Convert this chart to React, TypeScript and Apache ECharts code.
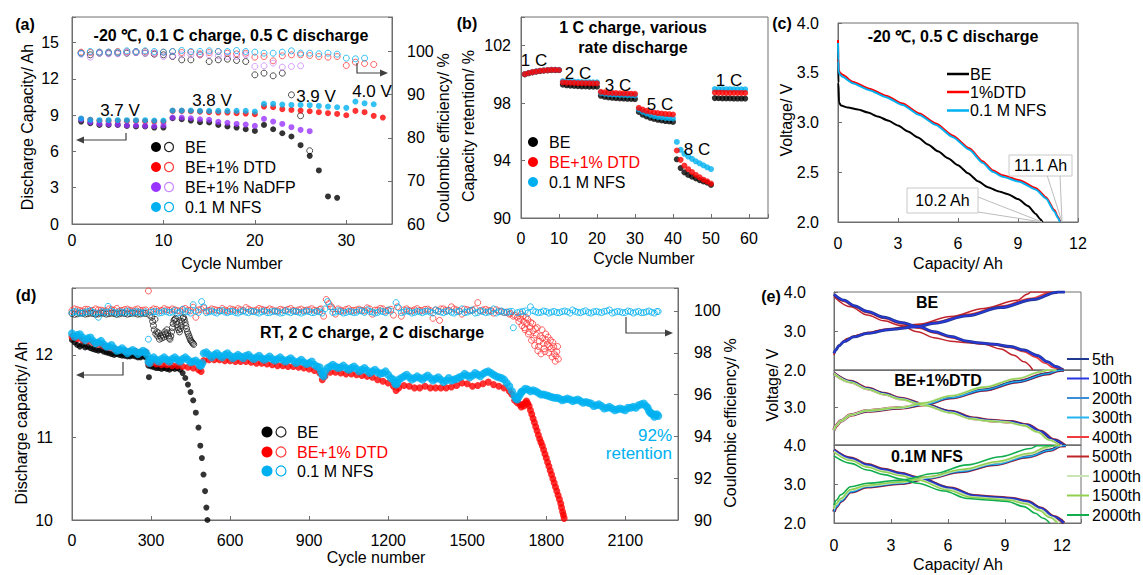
import { useEffect, useRef } from "react";
import * as echarts from "echarts";

const FONT = "'Liberation Sans', Arial, Helvetica, sans-serif";
const NARROW = "'Liberation Sans Narrow', 'Arial Narrow', 'Liberation Sans', Arial, sans-serif";
const AX = "#6e6e6e";
const C_BLACK = "#000000";
const C_RED = "#ff0000";
const C_RED_OPEN = "#ff3b3b";
const C_PURPLE = "#9933ff";
const C_PURPLE_OPEN = "#cc88ff";
const C_CYAN = "#00b0f0";

// ---------- (a) -20 C, 0.1 C charge / 0.5 C discharge (cycle 1..n)
const A_BE_CAP = [8.48, 8.34, 8.2, 8.2, 8.2, 8.12, 8.07, 8.07, 7.98, 7.98, 8.75, 8.67, 8.56, 8.42, 8.4, 8.2, 8.07, 7.98, 7.84, 7.7, 8.2, 7.84, 7.51, 7.24, 6.52, 5.64, 4.43, 2.28, 2.17];
const A_DTD_CAP = [8.7, 8.62, 8.53, 8.53, 8.53, 8.53, 8.53, 8.5, 8.48, 8.45, 9.36, 9.36, 9.33, 9.3, 9.25, 9.22, 9.22, 9.17, 9.14, 9.08, 9.72, 9.66, 9.5, 9.44, 9.39, 9.33, 9.25, 9.17, 9.11, 9.0, 9.36, 9.25, 8.95, 8.81];
const A_NADFP_CAP = [8.64, 8.42, 8.28, 8.26, 8.23, 8.15, 8.15, 8.12, 8.09, 8.15, 8.81, 8.81, 8.75, 8.67, 8.62, 8.45, 8.37, 8.28, 8.23, 8.12, 8.7, 8.48, 8.28, 8.01, 7.79, 7.68];
const A_NFS_CAP = [8.73, 8.62, 8.59, 8.59, 8.59, 8.59, 8.59, 8.59, 8.56, 8.56, 9.39, 9.39, 9.39, 9.36, 9.36, 9.36, 9.36, 9.36, 9.36, 9.3, 9.94, 9.94, 9.88, 9.85, 9.85, 9.83, 9.77, 9.72, 9.66, 9.61, 10.13, 9.99, 9.91];
const A_BE_CE = [99.61, 99.23, 99.61, 99.61, 99.61, 99.61, 99.77, 99.61, 99.38, 99.23, 98.84, 98.07, 98.07, 99.23, 97.68, 98.07, 98.22, 97.92, 97.68, 94.59, 94.98, 94.36, 94.98, 89.96, 85.1, 76.99];
const A_DTD_CE = [99.85, 99.77, 99.85, 99.85, 100.0, 99.92, 100.0, 100.0, 99.61, 99.85, 100.0, 99.77, 99.85, 99.46, 99.77, 100.0, 99.61, 99.46, 99.61, 98.69, 98.84, 97.84, 99.0, 99.23, 99.23, 99.07, 98.84, 98.69, 98.84, 96.76, 97.53, 97.22, 96.99];
const A_NADFP_CE = [99.38, 98.69, 99.61, 99.46, 99.46, 99.77, 99.77, 99.61, 99.61, 98.84, 99.0, 99.23, 99.23, 99.23, 99.23, 99.0, 98.84, 98.84, 99.23, 96.53, 96.68, 97.3, 96.37, 96.53, 96.68];
const A_NFS_CE = [99.61, 100.0, 99.85, 99.85, 99.85, 100.15, 100.0, 100.15, 100.0, 99.85, 100.0, 100.23, 100.0, 100.0, 100.15, 100.0, 100.0, 100.23, 100.0, 99.85, 99.61, 99.61, 99.85, 100.15, 99.61, 99.61, 99.46, 99.61, 99.38, 98.46, 98.3, 98.46];
const A_X_TICKS = [0, 10, 20, 30];
const A_YL_TICKS = [0, 3, 6, 9, 12, 15];
const A_YR_TICKS = [60, 70, 80, 90, 100];

// ---------- (b) rate capability, capacity retention % (cycle 1..59)
const B_BE = [100.0, 100.08, 100.14, 100.19, 100.23, 100.26, 100.28, 100.3, 100.3, 100.29,
  99.28, 99.24, 99.21, 99.2, 99.18, 99.17, 99.16, 99.15, 99.15, 99.14,
  98.51, 98.44, 98.4, 98.37, 98.35, 98.33, 98.32, 98.3, 98.29, 98.28,
  97.39, 97.2, 97.08, 96.98, 96.9, 96.84, 96.79, 96.75, 96.72, 96.69,
  94.09, 93.48, 93.18, 93.0, 92.88, 92.76, 92.64, 92.55, 92.46, 92.3,
  98.35, 98.34, 98.33, 98.33, 98.33, 98.32, 98.32, 98.32, 98.32];
const B_DTD = [100.02, 100.1, 100.16, 100.21, 100.25, 100.28, 100.3, 100.32, 100.32, 100.31,
  99.45, 99.43, 99.42, 99.41, 99.4, 99.4, 99.39, 99.39, 99.38, 99.38,
  98.79, 98.75, 98.73, 98.71, 98.7, 98.69, 98.68, 98.67, 98.66, 98.65,
  97.67, 97.55, 97.46, 97.4, 97.35, 97.31, 97.28, 97.25, 97.23, 97.21,
  94.7, 94.05, 93.65, 93.4, 93.2, 93.0, 92.83, 92.67, 92.55, 92.4,
  98.74, 98.73, 98.73, 98.72, 98.72, 98.72, 98.71, 98.71, 98.71];
const B_NFS = [100.03, 100.11, 100.17, 100.22, 100.26, 100.29, 100.31, 100.33, 100.33, 100.32,
  99.54, 99.51, 99.5, 99.49, 99.48, 99.47, 99.46, 99.46, 99.45, 99.45,
  98.72, 98.66, 98.63, 98.61, 98.59, 98.58, 98.57, 98.56, 98.55, 98.54,
  97.56, 97.4, 97.28, 97.18, 97.1, 97.04, 97.0, 96.97, 96.95, 96.93,
  95.3, 94.75, 94.47, 94.28, 94.12, 93.95, 93.81, 93.67, 93.53, 93.41,
  98.98, 98.98, 98.97, 98.97, 98.97, 98.96, 98.96, 98.96, 98.96];
const B_X_TICKS = [0, 10, 20, 30, 40, 50, 60];
const B_Y_TICKS = [90, 94, 98, 102];

// ---------- (c) discharge curves [capacity Ah, voltage V]
const C_BE = [[0, 3.82], [0.02, 3.4], [0.05, 3.2], [0.15, 3.17], [0.5, 3.15], [1.0, 3.13], [1.5, 3.1], [2.0, 3.06], [2.5, 3.02], [3.0, 2.97], [3.5, 2.91], [4.0, 2.85], [4.5, 2.78], [5.0, 2.71], [5.5, 2.64], [6.0, 2.57], [6.5, 2.49], [7.0, 2.41], [7.5, 2.35], [8.0, 2.31], [8.5, 2.28], [9.0, 2.23], [9.5, 2.16], [9.9, 2.08], [10.1, 2.03], [10.23, 2.0]];
const C_DTD = [[0, 3.83], [0.01, 3.65], [0.03, 3.53], [0.1, 3.5], [0.23, 3.48], [0.73, 3.41], [1.57, 3.34], [2.4, 3.27], [3.23, 3.19], [4.07, 3.09], [4.9, 2.99], [5.73, 2.87], [6.57, 2.74], [7.23, 2.61], [7.73, 2.52], [8.23, 2.47], [9.07, 2.42], [9.9, 2.34], [10.4, 2.25], [10.82, 2.12], [11.0, 2.05], [11.12, 2.0]];
const C_NFS = [[0, 3.8], [0.01, 3.62], [0.03, 3.51], [0.1, 3.48], [0.23, 3.46], [0.73, 3.395], [1.57, 3.325], [2.4, 3.255], [3.23, 3.175], [4.07, 3.075], [4.9, 2.975], [5.73, 2.855], [6.57, 2.725], [7.23, 2.595], [7.73, 2.505], [8.23, 2.455], [9.07, 2.405], [9.9, 2.325], [10.4, 2.235], [10.82, 2.105], [11.0, 2.04], [11.1, 2.0]];
const C_X_TICKS = [0, 3, 6, 9, 12];
const C_Y_TICKS = [2, 2.5, 3, 3.5, 4];

// ---------- (d) long cycling [cycle, value]
const D_BE_CAP = [[0, 12.18], [10, 12.15], [20, 12.12], [30, 12.1], [40, 12.12], [50, 12.09], [60, 12.1], [70, 12.08], [80, 12.07], [90, 12.06], [100, 12.05], [110, 12.06], [120, 12.04], [130, 12.03], [140, 12.02], [150, 12.01], [160, 12.0], [170, 12.01], [180, 12.0], [190, 11.99], [200, 11.99], [210, 11.98], [220, 11.98], [230, 11.99], [240, 11.98], [250, 11.97], [260, 11.97], [270, 11.98], [280, 11.97], [290, 11.87], [292, 11.73], [300, 11.86], [310, 11.85], [320, 11.84], [330, 11.84], [340, 11.83], [350, 11.84], [360, 11.83], [370, 11.82], [380, 11.84], [390, 11.83], [400, 11.84], [410, 11.82], [420, 11.78], [430, 11.72], [440, 11.64], [450, 11.55], [460, 11.45], [470, 11.3], [480, 11.12], [487, 10.9], [493, 10.75], [499, 10.55], [505, 10.35], [510, 10.15], [514, 10.0]];
const D_BE_CE = [[0, 99.88], [10, 99.84], [20, 99.86], [30, 99.9], [40, 99.89], [50, 99.85], [60, 99.87], [70, 99.9], [80, 99.88], [90, 99.84], [100, 99.86], [110, 99.9], [120, 99.89], [130, 99.85], [140, 99.87], [150, 99.9], [160, 99.88], [170, 99.84], [180, 99.86], [190, 99.9], [200, 99.88], [210, 99.85], [220, 99.87], [230, 99.9], [240, 99.89], [250, 99.85], [260, 99.86], [270, 99.9], [280, 99.88], [295, 99.8], [303, 99.7], [306, 99.5], [309, 99.3], [312, 99.1], [315, 99.6], [318, 98.9], [322, 99.0], [325, 98.8], [328, 98.95], [332, 98.65], [336, 98.8], [340, 98.7], [344, 98.85], [348, 98.75], [352, 99.0], [355, 98.9], [360, 99.1], [363, 98.95], [366, 98.8], [369, 98.7], [372, 98.65], [375, 98.8], [378, 99.0], [381, 99.2], [384, 99.4], [387, 99.55], [390, 99.6], [393, 99.65], [396, 99.5], [399, 99.35], [402, 99.2], [405, 99.1], [408, 99.0], [411, 99.15], [414, 99.3], [417, 99.5], [420, 99.65], [423, 99.7], [426, 99.6], [429, 99.45], [432, 99.3], [435, 99.15], [438, 99.0], [441, 98.9], [444, 98.8], [447, 98.7], [450, 98.6], [453, 98.55], [456, 98.5], [459, 98.45], [462, 98.4]];
const D_DTD_CAP = [[0, 12.22], [20, 12.2], [40, 12.18], [60, 12.17], [80, 12.15], [100, 12.13], [120, 12.11], [140, 12.09], [160, 12.07], [180, 12.06], [200, 12.05], [220, 12.04], [240, 12.04], [260, 12.03], [280, 12.03], [290, 11.9], [300, 11.9], [320, 11.89], [340, 11.88], [360, 11.88], [380, 11.87], [400, 11.87], [420, 11.86], [440, 11.85], [460, 11.84], [480, 11.82], [490, 11.8], [500, 11.93], [520, 11.94], [540, 11.94], [560, 11.94], [580, 11.93], [600, 11.93], [620, 11.92], [640, 11.92], [660, 11.92], [680, 11.91], [700, 11.9], [720, 11.9], [740, 11.89], [760, 11.88], [780, 11.87], [800, 11.87], [820, 11.86], [840, 11.86], [860, 11.85], [880, 11.84], [900, 11.83], [920, 11.81], [940, 11.78], [950, 11.7], [960, 11.74], [980, 11.79], [1000, 11.79], [1020, 11.78], [1040, 11.77], [1060, 11.77], [1080, 11.76], [1100, 11.75], [1120, 11.74], [1140, 11.73], [1160, 11.7], [1180, 11.68], [1200, 11.66], [1220, 11.62], [1230, 11.57], [1240, 11.6], [1260, 11.63], [1280, 11.62], [1300, 11.6], [1320, 11.6], [1340, 11.62], [1360, 11.6], [1380, 11.6], [1400, 11.6], [1420, 11.6], [1440, 11.61], [1460, 11.63], [1480, 11.66], [1500, 11.65], [1520, 11.62], [1540, 11.63], [1560, 11.65], [1580, 11.67], [1600, 11.64], [1620, 11.62], [1640, 11.6], [1660, 11.56], [1680, 11.45], [1700, 11.4], [1715, 11.38], [1725, 11.44], [1735, 11.38], [1745, 11.28], [1755, 11.18], [1765, 11.08], [1775, 10.98], [1785, 10.9], [1795, 10.8], [1805, 10.7], [1815, 10.6], [1825, 10.5], [1835, 10.4], [1845, 10.3], [1855, 10.2], [1862, 10.1], [1868, 10.02]];
const D_DTD_CAP_B = [[1670, 11.52], [1690, 11.42], [1705, 11.37], [1710, 11.4], [1720, 11.42], [1730, 11.41], [1740, 11.33], [1750, 11.23], [1760, 11.13], [1770, 11.03], [1780, 10.94], [1790, 10.85], [1800, 10.75], [1810, 10.65], [1820, 10.55], [1830, 10.45], [1840, 10.35], [1850, 10.25], [1858, 10.15], [1865, 10.06]];
const D_DTD_CE = [[0, 100.02], [20, 100.06], [40, 100.0], [60, 100.08], [80, 100.03], [100, 100.05], [120, 100.01], [140, 100.1], [160, 100.04], [180, 100.0], [200, 100.07], [220, 100.03], [240, 100.06], [260, 100.02], [280, 100.05], [290, 100.96], [300, 100.02], [320, 100.08], [340, 100.03], [360, 100.06], [380, 100.1], [400, 100.02], [420, 100.07], [440, 100.04], [460, 100.18], [470, 99.7], [480, 100.05], [500, 100.15], [520, 100.03], [540, 100.07], [560, 100.02], [580, 100.05], [600, 100.1], [620, 100.03], [640, 100.06], [660, 100.16], [680, 100.02], [700, 100.05], [720, 100.08], [740, 100.03], [760, 100.06], [780, 100.01], [800, 100.05], [820, 100.08], [840, 100.03], [860, 100.05], [880, 100.02], [900, 100.06], [920, 100.04], [940, 100.07], [955, 99.75], [965, 100.55], [975, 100.35], [990, 100.1], [1000, 99.85], [1020, 100.04], [1040, 100.07], [1060, 100.02], [1080, 100.05], [1100, 100.03], [1120, 100.15], [1140, 99.85], [1160, 100.05], [1180, 100.1], [1200, 100.03], [1220, 99.8], [1235, 100.2], [1250, 99.75], [1260, 100.05], [1280, 100.02], [1300, 100.06], [1320, 100.03], [1340, 100.08], [1360, 100.02], [1370, 99.65], [1380, 100.05], [1395, 99.55], [1400, 100.1], [1420, 100.03], [1440, 100.2], [1460, 100.05], [1480, 99.85], [1500, 100.06], [1520, 100.03], [1540, 100.4], [1560, 100.05], [1580, 100.02], [1600, 99.9], [1620, 100.0], [1640, 99.92], [1660, 99.85], [1675, 99.75], [1690, 99.7], [1696, 99.5], [1702, 99.62], [1708, 99.3], [1712, 99.75], [1714, 99.5], [1720, 99.1], [1726, 99.4], [1730, 99.6], [1732, 98.9], [1738, 99.25], [1744, 98.6], [1748, 99.4], [1750, 99.05], [1756, 98.35], [1762, 98.85], [1766, 99.2], [1768, 98.1], [1774, 98.55], [1780, 97.95], [1784, 99.1], [1786, 98.7], [1792, 98.2], [1798, 98.9], [1800, 98.6], [1804, 98.4], [1810, 98.0], [1816, 98.6], [1818, 98.2], [1822, 97.8], [1828, 98.3], [1830, 97.95], [1834, 97.6], [1840, 98.05], [1846, 97.7]];
const D_DTD_CE_B = [[10, 100.1], [30, 100.02], [50, 100.08], [70, 100.0], [90, 100.1], [110, 100.04], [130, 100.0], [150, 100.07], [170, 100.12], [190, 100.03], [210, 100.09], [230, 100.0], [250, 100.1], [270, 100.04], [310, 100.1], [330, 100.0], [350, 100.11], [370, 100.03], [390, 100.06], [410, 100.0], [430, 100.12], [450, 100.02], [490, 100.08], [510, 100.0], [530, 100.1], [550, 100.04], [570, 100.12], [590, 100.0], [610, 100.07], [630, 100.11], [650, 100.02], [670, 100.09], [690, 100.0], [710, 100.12], [730, 100.04], [750, 100.1], [770, 100.0], [790, 100.08], [810, 100.03], [830, 100.12], [850, 100.0], [870, 100.09], [890, 100.04], [910, 100.11], [930, 100.0], [945, 100.1], [985, 100.2], [1010, 100.1], [1030, 100.0], [1050, 100.11], [1070, 100.03], [1090, 100.09], [1110, 100.0], [1130, 100.1], [1150, 100.04], [1170, 100.12], [1190, 100.0], [1210, 100.08], [1270, 100.1], [1290, 100.0], [1310, 100.11], [1330, 100.02], [1350, 100.09], [1390, 100.0], [1410, 100.1], [1430, 100.03], [1450, 100.1], [1470, 100.0], [1490, 100.09], [1510, 100.03], [1530, 100.1], [1550, 100.0], [1570, 100.08], [1590, 100.02], [1610, 100.06], [1630, 99.98], [1650, 99.95], [1665, 99.88], [1680, 99.8], [1705, 99.85], [1717, 99.2], [1723, 99.7], [1735, 99.0], [1741, 99.45], [1753, 98.7], [1759, 99.15], [1771, 98.3], [1777, 98.8], [1789, 98.45], [1795, 98.05], [1807, 98.75], [1813, 98.3], [1825, 98.5], [1837, 97.85], [1843, 98.3]];
const D_NFS_CAP = [[0, 12.26], [20, 12.24], [40, 12.21], [60, 12.2], [80, 12.17], [100, 12.15], [120, 12.13], [140, 12.1], [160, 12.08], [180, 12.06], [200, 12.05], [220, 12.04], [240, 12.04], [260, 12.03], [280, 12.03], [290, 11.92], [300, 11.95], [320, 11.94], [340, 11.95], [360, 11.94], [380, 11.95], [400, 11.94], [420, 11.95], [440, 11.94], [460, 11.92], [480, 11.9], [490, 11.87], [500, 12.02], [520, 12.0], [540, 12.0], [560, 11.99], [580, 12.0], [600, 11.99], [620, 11.98], [640, 11.98], [660, 11.99], [680, 11.97], [700, 11.97], [720, 11.96], [740, 11.96], [760, 11.95], [780, 11.95], [800, 11.94], [820, 11.94], [840, 11.93], [860, 11.92], [880, 11.91], [900, 11.9], [920, 11.88], [940, 11.85], [950, 11.76], [960, 11.8], [980, 11.86], [1000, 11.86], [1020, 11.85], [1040, 11.84], [1060, 11.84], [1080, 11.83], [1100, 11.82], [1120, 11.81], [1140, 11.8], [1160, 11.79], [1180, 11.78], [1200, 11.76], [1220, 11.7], [1230, 11.64], [1240, 11.7], [1260, 11.74], [1280, 11.73], [1300, 11.72], [1320, 11.72], [1340, 11.73], [1360, 11.72], [1380, 11.71], [1400, 11.7], [1420, 11.69], [1440, 11.69], [1460, 11.71], [1480, 11.74], [1500, 11.75], [1520, 11.75], [1540, 11.76], [1560, 11.77], [1580, 11.8], [1600, 11.76], [1620, 11.73], [1640, 11.7], [1660, 11.62], [1680, 11.5], [1690, 11.46], [1700, 11.52], [1710, 11.56], [1730, 11.58], [1750, 11.57], [1770, 11.54], [1790, 11.52], [1810, 11.5], [1830, 11.48], [1850, 11.47], [1870, 11.46], [1890, 11.46], [1910, 11.45], [1930, 11.44], [1950, 11.43], [1970, 11.41], [1990, 11.39], [2010, 11.38], [2030, 11.36], [2050, 11.35], [2070, 11.34], [2090, 11.34], [2110, 11.36], [2130, 11.37], [2150, 11.39], [2170, 11.41], [2185, 11.36], [2195, 11.3], [2205, 11.28], [2215, 11.27], [2225, 11.26]];
const D_NFS_CAP_B = [[10, 12.22], [30, 12.25], [50, 12.18], [70, 12.21], [90, 12.14], [110, 12.17], [130, 12.1], [150, 12.12], [170, 12.05], [190, 12.08], [210, 12.02], [230, 12.06], [250, 12.01], [270, 12.05], [285, 12.0], [295, 11.9], [310, 11.97], [330, 11.92], [350, 11.97], [370, 11.92], [390, 11.97], [410, 11.92], [430, 11.97], [450, 11.91], [470, 11.93], [485, 11.87], [495, 11.9], [510, 12.03], [530, 11.97], [550, 12.02], [570, 11.97], [590, 12.02], [610, 11.96], [630, 12.0], [650, 11.96], [670, 12.0], [690, 11.95], [710, 11.99], [730, 11.94], [750, 11.98], [770, 11.93], [790, 11.97], [810, 11.92], [830, 11.96], [850, 11.9], [870, 11.94], [890, 11.89], [910, 11.92], [930, 11.86], [945, 11.8], [955, 11.74], [970, 11.84], [990, 11.88], [1010, 11.84], [1030, 11.87], [1050, 11.82], [1070, 11.86], [1090, 11.8], [1110, 11.84], [1130, 11.78], [1150, 11.82], [1170, 11.77], [1190, 11.8], [1210, 11.72], [1225, 11.66], [1235, 11.66], [1250, 11.72], [1270, 11.76], [1290, 11.7], [1310, 11.74], [1330, 11.7], [1350, 11.75], [1370, 11.69], [1390, 11.73], [1410, 11.67], [1430, 11.72], [1450, 11.7], [1470, 11.73], [1490, 11.77], [1510, 11.73], [1530, 11.78], [1550, 11.74], [1570, 11.79], [1590, 11.78], [1610, 11.74], [1630, 11.72], [1650, 11.66], [1670, 11.56], [1685, 11.47], [1695, 11.49], [1705, 11.55], [1720, 11.59], [1740, 11.56], [1760, 11.56], [1780, 11.52], [1800, 11.51], [1820, 11.49], [1840, 11.48], [1860, 11.45], [1880, 11.47], [1900, 11.44], [1920, 11.46], [1940, 11.42], [1960, 11.42], [1980, 11.38], [2000, 11.4], [2020, 11.35], [2040, 11.37], [2060, 11.33], [2080, 11.35], [2100, 11.33], [2120, 11.36], [2140, 11.36], [2160, 11.4], [2178, 11.38], [2190, 11.32], [2200, 11.29], [2210, 11.25], [2220, 11.28]];
const D_NFS_CE = [[0, 99.92], [20, 99.95], [40, 99.9], [60, 99.97], [80, 99.93], [100, 99.7], [120, 99.95], [137, 100.22], [160, 99.94], [180, 99.96], [200, 99.92], [220, 99.95], [240, 99.97], [260, 99.93], [280, 99.96], [290, 98.65], [300, 99.94], [320, 99.97], [340, 99.92], [360, 99.96], [380, 99.95], [400, 99.9], [420, 100.08], [440, 99.97], [460, 100.3], [480, 99.93], [492, 100.45], [500, 100.2], [520, 99.96], [540, 99.94], [560, 99.98], [580, 99.95], [600, 99.97], [620, 99.93], [640, 99.96], [660, 99.95], [680, 99.98], [700, 99.94], [720, 99.96], [740, 99.93], [760, 99.97], [780, 99.95], [800, 99.92], [820, 99.96], [840, 99.98], [860, 99.94], [880, 99.95], [900, 99.97], [920, 99.93], [940, 99.96], [960, 100.1], [970, 100.45], [980, 100.2], [1000, 99.95], [1020, 99.97], [1040, 99.93], [1060, 99.96], [1080, 99.94], [1100, 100.0], [1120, 100.05], [1140, 99.95], [1160, 99.93], [1180, 99.97], [1200, 100.05], [1230, 100.4], [1240, 100.15], [1260, 99.95], [1280, 99.97], [1300, 99.93], [1320, 99.96], [1340, 99.98], [1360, 99.94], [1380, 100.05], [1400, 99.95], [1420, 99.97], [1440, 99.94], [1460, 99.96], [1480, 100.1], [1500, 99.95], [1520, 100.05], [1540, 99.93], [1560, 99.97], [1580, 99.95], [1600, 100.1], [1620, 99.96], [1640, 99.94], [1660, 99.97], [1675, 99.2], [1700, 99.95], [1720, 100.0], [1740, 100.2], [1760, 99.96], [1780, 99.94], [1800, 99.97], [1820, 99.95], [1840, 99.93], [1860, 99.97], [1880, 99.96], [1900, 100.05], [1920, 99.94], [1940, 99.97], [1960, 99.93], [1980, 99.96], [2000, 99.95], [2020, 99.98], [2040, 100.05], [2060, 99.94], [2080, 99.96], [2100, 99.93], [2120, 99.97], [2140, 99.95], [2160, 99.92], [2180, 99.96], [2200, 99.94], [2220, 99.97]];
const D_NFS_CE_B = [[10, 99.98], [30, 99.9], [50, 99.95], [70, 100.02], [90, 99.9], [110, 99.96], [130, 99.92], [150, 99.98], [170, 99.9], [190, 99.95], [210, 100.0], [230, 99.91], [250, 99.96], [270, 99.9], [310, 99.97], [330, 99.9], [350, 99.99], [370, 99.92], [390, 100.02], [410, 99.93], [430, 99.97], [450, 99.9], [470, 100.0], [510, 99.92], [530, 100.0], [550, 99.9], [570, 100.02], [590, 99.92], [610, 99.99], [630, 99.9], [650, 100.01], [670, 99.92], [690, 99.97], [710, 99.9], [730, 100.0], [750, 99.92], [770, 99.99], [790, 99.9], [810, 100.01], [830, 99.92], [850, 99.97], [870, 99.9], [890, 100.0], [910, 99.92], [930, 99.99], [950, 99.9], [990, 99.93], [1010, 100.01], [1030, 99.9], [1050, 99.98], [1070, 99.92], [1090, 100.02], [1110, 99.93], [1130, 99.98], [1150, 99.9], [1170, 100.0], [1190, 99.92], [1210, 99.99], [1250, 99.92], [1270, 100.01], [1290, 99.9], [1310, 99.99], [1330, 99.92], [1350, 100.0], [1370, 99.9], [1390, 99.98], [1410, 99.92], [1430, 100.02], [1450, 99.9], [1470, 99.98], [1490, 99.92], [1510, 100.0], [1530, 99.9], [1550, 100.02], [1570, 99.92], [1590, 99.98], [1610, 99.9], [1630, 100.0], [1650, 99.93], [1670, 99.98], [1690, 99.92], [1710, 99.97], [1730, 99.9], [1750, 100.02], [1770, 99.92], [1790, 100.0], [1810, 99.9], [1830, 99.98], [1850, 99.92], [1870, 100.0], [1890, 99.9], [1910, 99.98], [1930, 99.92], [1950, 100.01], [1970, 99.9], [1990, 99.98], [2010, 99.92], [2030, 100.0], [2050, 99.9], [2070, 99.98], [2090, 99.92], [2110, 100.0], [2130, 99.9], [2150, 99.98], [2170, 99.92], [2190, 100.0], [2210, 99.9], [2225, 99.98]];
const D_X_TICKS = [0, 300, 600, 900, 1200, 1500, 1800, 2100];
const D_YL_TICKS = [10, 11, 12];
const D_YR_TICKS = [90, 92, 94, 96, 98, 100];

// ---------- (e) charge/discharge profiles [capacity Ah, voltage V]
const E_TOP_DIS_FRESH = [[0, 3.94], [0.53, 3.79], [1.05, 3.65], [1.75, 3.5], [2.63, 3.35], [3.51, 3.22], [4.47, 3.11], [5.26, 2.98], [6.14, 2.86], [7.02, 2.74], [7.54, 2.7], [8.42, 2.66], [9.3, 2.6], [10.0, 2.51], [10.7, 2.37], [11.23, 2.21], [11.67, 2.09], [12.05, 2.0]];
const E_TOP_DIS_400 = [[0, 3.9], [0.53, 3.76], [1.05, 3.62], [1.75, 3.47], [2.63, 3.32], [3.51, 3.19], [4.47, 3.07], [5.26, 2.95], [6.14, 2.83], [7.02, 2.72], [7.54, 2.68], [8.42, 2.64], [9.3, 2.57], [10.0, 2.47], [10.6, 2.33], [11.1, 2.18], [11.55, 2.06], [11.85, 2.0]];
const E_TOP_DIS_500 = [[0, 3.88], [0.88, 3.62], [1.75, 3.41], [2.63, 3.26], [3.51, 3.14], [4.39, 2.98], [5.26, 2.83], [6.14, 2.74], [7.02, 2.7], [7.89, 2.66], [8.77, 2.54], [9.47, 2.38], [10.0, 2.21], [10.47, 2.0]];
const E_TOP_CHG_FRESH = [[0, 2.43], [0.1, 2.52], [0.26, 2.62], [0.53, 2.73], [1.05, 2.85], [1.75, 2.94], [2.98, 3.04], [4.39, 3.11], [5.26, 3.2], [7.02, 3.39], [8.77, 3.6], [10.53, 3.81], [11.67, 3.99], [11.8, 4.0], [12.15, 4.0]];
const E_TOP_CHG_400 = [[0, 2.4], [0.1, 2.52], [0.26, 2.63], [0.53, 2.75], [1.05, 2.87], [1.75, 2.96], [2.98, 3.06], [4.39, 3.14], [5.26, 3.23], [7.02, 3.43], [8.77, 3.64], [10.4, 3.84], [11.4, 3.99], [11.55, 4.0], [12.0, 4.0]];
const E_TOP_CHG_500 = [[0, 2.38], [0.1, 2.5], [0.26, 2.64], [0.7, 2.81], [1.4, 2.91], [2.63, 3.03], [4.39, 3.17], [6.14, 3.37], [7.89, 3.58], [9.65, 3.79], [10.2, 3.95], [10.35, 4.0], [11.5, 4.0]];
const E_MID_DIS_FRESH = [[0, 3.91], [0.88, 3.69], [1.75, 3.51], [2.63, 3.37], [3.51, 3.24], [4.74, 3.08], [6.14, 2.89], [7.37, 2.71], [8.25, 2.65], [9.3, 2.62], [10.18, 2.53], [10.88, 2.36], [11.58, 2.13], [12.1, 2.0]];
const E_MID_DIS_GREEN = [[0, 3.9], [0.88, 3.67], [1.75, 3.49], [2.63, 3.35], [3.51, 3.22], [4.74, 3.06], [6.14, 2.86], [7.2, 2.7], [8.1, 2.64], [9.1, 2.61], [10.0, 2.52], [10.7, 2.35], [11.35, 2.13], [11.84, 2.0]];
const E_MID_CHG_FRESH = [[0, 2.4], [0.12, 2.52], [0.35, 2.64], [0.88, 2.8], [1.75, 2.91], [3.51, 2.99], [4.74, 3.08], [6.14, 3.26], [7.89, 3.47], [9.65, 3.69], [11.23, 3.9], [11.8, 3.99], [12.1, 4.0]];
const E_MID_CHG_GREEN = [[0, 2.4], [0.12, 2.52], [0.35, 2.64], [0.88, 2.8], [1.75, 2.92], [3.51, 3.0], [4.74, 3.12], [6.14, 3.31], [7.89, 3.54], [9.65, 3.77], [10.9, 3.95], [11.25, 4.0], [11.7, 4.0]];
const E_BOT_DIS_FRESH = [[0, 3.87], [0.88, 3.66], [1.75, 3.49], [2.63, 3.37], [3.51, 3.27], [4.39, 3.16], [6.14, 2.89], [7.37, 2.7], [8.42, 2.66], [9.3, 2.63], [10.18, 2.55], [10.88, 2.38], [11.58, 2.16], [12.1, 2.0]];
const E_BOT_DIS_1000 = [[0, 3.84], [0.88, 3.62], [1.75, 3.45], [2.63, 3.33], [3.51, 3.23], [4.39, 3.12], [6.05, 2.86], [7.3, 2.67], [8.3, 2.63], [9.25, 2.6], [10.15, 2.51], [10.85, 2.34], [11.45, 2.15], [11.85, 2.0]];
const E_BOT_DIS_1500 = [[0, 3.82], [0.88, 3.6], [1.75, 3.43], [2.63, 3.31], [3.51, 3.21], [4.39, 3.1], [6.0, 2.84], [7.2, 2.66], [8.2, 2.62], [9.2, 2.59], [10.1, 2.49], [10.8, 2.32], [11.35, 2.14], [11.75, 2.0]];
const E_BOT_DIS_2000 = [[0, 3.72], [0.88, 3.53], [1.75, 3.36], [2.63, 3.24], [3.51, 3.13], [4.39, 3.02], [5.79, 2.82], [7.02, 2.63], [8.07, 2.59], [9.12, 2.55], [10.0, 2.42], [10.6, 2.25], [11.0, 2.12], [11.35, 2.0]];
const E_BOT_CHG_FRESH = [[0, 2.29], [0.12, 2.42], [0.35, 2.56], [0.88, 2.8], [1.75, 2.93], [3.51, 3.02], [4.91, 3.15], [6.67, 3.32], [8.42, 3.5], [10.18, 3.7], [11.4, 3.87], [11.93, 3.98], [12.2, 3.99]];
const E_BOT_CHG_1000 = [[0, 2.35], [0.12, 2.47], [0.35, 2.6], [0.88, 2.84], [1.75, 2.95], [3.51, 3.04], [5.0, 3.17], [6.8, 3.36], [8.6, 3.55], [10.3, 3.76], [11.3, 3.93], [11.55, 3.99], [12.0, 3.99]];
const E_BOT_CHG_1500 = [[0, 2.38], [0.12, 2.5], [0.35, 2.63], [0.88, 2.86], [1.75, 2.97], [3.51, 3.05], [5.0, 3.19], [6.8, 3.38], [8.6, 3.58], [10.3, 3.79], [11.2, 3.95], [11.4, 3.99], [11.9, 3.99]];
const E_BOT_CHG_2000 = [[0, 2.46], [0.12, 2.58], [0.35, 2.72], [0.88, 2.93], [1.75, 3.02], [3.51, 3.1], [5.26, 3.27], [7.02, 3.49], [8.77, 3.7], [10.35, 3.91], [10.7, 3.98], [11.6, 3.98]];
const E_X_TICKS = [0, 3, 6, 9, 12];
const E_Y_TICKS = [2, 3, 4];
const E_Y_TICKS_MID = [3];
const E_LEGEND_NAMES = ["5th", "100th", "200th", "300th", "400th", "500th", "1000th", "1500th", "2000th"];
const E_LEGEND_COLORS = ["#1f3a8f", "#2a36e0", "#3b8ed6", "#22b5f0", "#f23a3a", "#c0242b", "#c9e5b5", "#92d050", "#12ad4f"];

const fmt = (ticks: number[], dec: number) => (v: number) =>
  ticks.some((t) => Math.abs(t - v) < 1e-6) ? v.toFixed(dec) : "";

const seq = (vals: number[]) => vals.map((v, i) => [i + 1, v]);

function valAxis(o: any) {
  return {
    type: "value",
    gridIndex: o.grid,
    position: o.position,
    min: o.min,
    max: o.max,
    interval: o.interval,
    axisLine: { show: true, onZero: false, lineStyle: { color: AX, width: 1 } },
    axisTick: { show: o.tick !== false, inside: true, length: 4, lineStyle: { color: AX } },
    splitLine: { show: false },
    axisLabel: {
      show: o.label !== false,
      color: "#000",
      fontSize: 16,
      fontFamily: o.font || FONT,
      margin: o.margin,
      formatter: fmt(o.ticks || [], o.dec || 0),
    },
  };
}

const T = (x: number, y: number, text: string, o: any = {}) => ({
  type: "text",
  x,
  y,
  rotation: o.rotation || 0,
  z: 100,
  style: {
    text,
    fill: o.fill || "#000",
    fontSize: o.size || 16,
    fontFamily: FONT,
    fontWeight: o.bold ? "bold" : "normal",
    align: o.align || "center",
    verticalAlign: "middle",
  },
});
const dot = (cx: number, cy: number, r: number, color: string, open = false) => ({
  type: "circle",
  z: 100,
  shape: { cx, cy, r },
  style: open ? { fill: "none", stroke: color, lineWidth: 1.2 } : { fill: color },
});
const seg = (x1: number, y1: number, x2: number, y2: number, color: string, w = 1) => ({
  type: "line",
  z: 100,
  shape: { x1, y1, x2, y2 },
  style: { stroke: color, lineWidth: w },
});
const poly = (pts: number[][], color: string) => ({
  type: "polyline",
  z: 100,
  shape: { points: pts },
  style: { stroke: color, lineWidth: 1.2, fill: "none" },
});
const head = (pts: number[][], color: string) => ({
  type: "polygon",
  z: 100,
  shape: { points: pts },
  style: { fill: color },
});

function scatter(x: number, y: number, data: any[], color: string, open: boolean, size: number) {
  return {
    type: "scatter",
    xAxisIndex: x,
    yAxisIndex: y,
    data,
    symbol: "circle",
    symbolSize: size,
    silent: true,
    itemStyle: open
      ? { color: "rgba(0,0,0,0)", borderColor: color, borderWidth: 1 }
      : { color },
  };
}
function eLine(panel: number, data: any[], color: string, width: number) {
  return {
    type: "line",
    xAxisIndex: 4 + panel,
    yAxisIndex: 6 + panel,
    data,
    showSymbol: false,
    symbol: "none",
    smooth: 0.35,
    smoothMonotone: "x",
    silent: true,
    lineStyle: { color, width },
  };
}
function cLine(data: any[], color: string) {
  return {
    type: "line",
    xAxisIndex: 2,
    yAxisIndex: 3,
    data,
    showSymbol: false,
    symbol: "none",
    smooth: 0.2,
    smoothMonotone: "x",
    silent: true,
    lineStyle: { color, width: 2 },
  };
}

export default function App() {
  const ref = useRef<HTMLDivElement>(null);
  useEffect(() => {
    if (!ref.current) return;
    const chart = echarts.init(ref.current, null, { renderer: "svg" });
    const gridBase = { show: true, borderColor: AX, borderWidth: 1, backgroundColor: "transparent", containLabel: false, outerBoundsMode: "none" };
    const [ec0, ec1, , ec3, ec4, ec5, ec6, ec7, ec8] = E_LEGEND_COLORS;
    const option: any = {
      animation: false,
      backgroundColor: "#ffffff",
      grid: [
        { ...gridBase, left: 72, top: 17, width: 320, height: 207 },
        { ...gridBase, left: 521, top: 17, width: 247, height: 201 },
        { ...gridBase, left: 838, top: 23, width: 240, height: 199 },
        { ...gridBase, left: 72, top: 288, width: 606, height: 232 },
        { ...gridBase, left: 834, top: 292, width: 247, height: 78 },
        { ...gridBase, left: 834, top: 370, width: 247, height: 75 },
        { ...gridBase, left: 834, top: 445, width: 247, height: 78 },
      ],
      xAxis: [
        valAxis({ grid: 0, min: 0, max: 35, interval: 10, ticks: A_X_TICKS, margin: 8 }),
        valAxis({ grid: 1, min: 0, max: 65, interval: 10, ticks: B_X_TICKS, margin: 12 }),
        valAxis({ grid: 2, min: 0, max: 12, interval: 3, ticks: C_X_TICKS, margin: 13 }),
        valAxis({ grid: 3, min: 0, max: 2300, interval: 300, ticks: D_X_TICKS, margin: 12, font: NARROW }),
        valAxis({ grid: 4, min: 0, max: 13, interval: 3, ticks: E_X_TICKS, label: false, tick: false }),
        valAxis({ grid: 5, min: 0, max: 13, interval: 3, ticks: E_X_TICKS, label: false, tick: false }),
        valAxis({ grid: 6, min: 0, max: 13, interval: 3, ticks: E_X_TICKS, margin: 14 }),
      ],
      yAxis: [
        valAxis({ grid: 0, min: 0, max: 17.13, interval: 3, ticks: A_YL_TICKS, margin: 13 }),
        valAxis({ grid: 0, position: "right", min: 60, max: 108, interval: 10, ticks: A_YR_TICKS, margin: 15 }),
        valAxis({ grid: 1, min: 90, max: 104, interval: 4, ticks: B_Y_TICKS, margin: 10 }),
        valAxis({ grid: 2, min: 2, max: 4, interval: 0.5, ticks: C_Y_TICKS, dec: 1, margin: 19 }),
        valAxis({ grid: 3, min: 10, max: 12.81, interval: 1, ticks: D_YL_TICKS, margin: 19 }),
        valAxis({ grid: 3, position: "right", min: 90, max: 101.1, interval: 2, ticks: D_YR_TICKS, margin: 16 }),
        valAxis({ grid: 4, min: 2, max: 4, interval: 1, ticks: E_Y_TICKS, dec: 1, margin: 28 }),
        valAxis({ grid: 5, min: 2, max: 4, interval: 1, ticks: E_Y_TICKS_MID, dec: 1, margin: 28 }),
        valAxis({ grid: 6, min: 2, max: 4, interval: 1, ticks: E_Y_TICKS, dec: 1, margin: 28 }),
      ],
      series: [
        // (a)
        scatter(0, 1, seq(A_BE_CE), "#222222", true, 6),
        scatter(0, 1, seq(A_DTD_CE), C_RED_OPEN, true, 6),
        scatter(0, 1, seq(A_NADFP_CE), C_PURPLE_OPEN, true, 6),
        scatter(0, 1, seq(A_NFS_CE), C_CYAN, true, 6),
        scatter(0, 0, seq(A_BE_CAP), C_BLACK, false, 6),
        scatter(0, 0, seq(A_DTD_CAP), C_RED, false, 6),
        scatter(0, 0, seq(A_NADFP_CAP), C_PURPLE, false, 6),
        scatter(0, 0, seq(A_NFS_CAP), C_CYAN, false, 6),
        // (b)
        scatter(1, 2, seq(B_BE), C_BLACK, false, 6),
        scatter(1, 2, seq(B_NFS), C_CYAN, false, 6),
        scatter(1, 2, seq(B_DTD), C_RED, false, 6),
        // (c)
        cLine(C_BE, C_BLACK),
        cLine(C_DTD, C_RED),
        cLine(C_NFS, C_CYAN),
        // (d)
        scatter(3, 5, D_BE_CE, "#222222", true, 6),
        scatter(3, 4, D_BE_CAP, C_BLACK, false, 6),
        scatter(3, 5, D_DTD_CE, C_RED_OPEN, true, 6),
        scatter(3, 5, D_DTD_CE_B, C_RED_OPEN, true, 6),
        scatter(3, 4, D_DTD_CAP, C_RED, false, 7),
        scatter(3, 4, D_DTD_CAP_B, C_RED, false, 7),
        scatter(3, 5, D_NFS_CE, C_CYAN, true, 6),
        scatter(3, 5, D_NFS_CE_B, C_CYAN, true, 6),
        scatter(3, 4, D_NFS_CAP, C_CYAN, false, 8),
        scatter(3, 4, D_NFS_CAP_B, C_CYAN, false, 8),
        // (e) top: BE
        eLine(0, E_TOP_DIS_400, ec4, 1.6),
        eLine(0, E_TOP_CHG_400, ec4, 1.6),
        eLine(0, E_TOP_DIS_500, ec5, 1.5),
        eLine(0, E_TOP_CHG_500, ec5, 1.5),
        eLine(0, E_TOP_DIS_FRESH, ec0, 3),
        eLine(0, E_TOP_CHG_FRESH, ec0, 3),
        eLine(0, E_TOP_DIS_FRESH, ec1, 1.4),
        eLine(0, E_TOP_CHG_FRESH, ec1, 1.4),
        // (e) middle: DTD
        eLine(1, E_MID_DIS_FRESH, ec5, 3.6),
        eLine(1, E_MID_CHG_FRESH, ec5, 3.6),
        eLine(1, E_MID_DIS_FRESH, ec0, 2.6),
        eLine(1, E_MID_CHG_FRESH, ec0, 2.6),
        eLine(1, E_MID_DIS_FRESH, ec1, 1.2),
        eLine(1, E_MID_CHG_FRESH, ec3, 1.2),
        eLine(1, E_MID_DIS_GREEN, ec6, 2.4),
        eLine(1, E_MID_CHG_GREEN, ec6, 2.4),
        eLine(1, E_MID_DIS_GREEN, ec7, 1.3),
        eLine(1, E_MID_CHG_GREEN, ec7, 1.3),
        // (e) bottom: NFS
        eLine(2, E_BOT_DIS_FRESH, ec5, 3.6),
        eLine(2, E_BOT_CHG_FRESH, ec5, 3.6),
        eLine(2, E_BOT_DIS_FRESH, ec0, 2.6),
        eLine(2, E_BOT_CHG_FRESH, ec0, 2.6),
        eLine(2, E_BOT_DIS_FRESH, ec1, 1.2),
        eLine(2, E_BOT_CHG_FRESH, ec3, 1.2),
        eLine(2, E_BOT_DIS_1000, ec6, 1.8),
        eLine(2, E_BOT_CHG_1000, ec6, 1.8),
        eLine(2, E_BOT_DIS_1500, ec7, 1.5),
        eLine(2, E_BOT_CHG_1500, ec7, 1.5),
        eLine(2, E_BOT_DIS_2000, ec8, 1.6),
        eLine(2, E_BOT_CHG_2000, ec8, 1.6),
      ],
      graphic: {
        elements: [
          // panel letters
          T(25, 24, "(a)", { bold: true }),
          T(467, 23, "(b)", { bold: true }),
          T(782, 23, "(c)", { bold: true }),
          T(26, 295, "(d)", { bold: true }),
          T(771, 296, "(e)", { bold: true }),
          // (a)
          T(231, 35, "-20 ℃, 0.1 C charge, 0.5 C discharge", { bold: true }),
          T(27, 127, "Discharge Capacity/ Ah", { rotation: Math.PI / 2 }),
          T(443, 138, "Coulombic efficiency/ %", { rotation: Math.PI / 2 }),
          T(232, 263, "Cycle Number"),
          T(120, 110, "3.7 V", { size: 17 }),
          T(212, 100, "3.8 V", { size: 17 }),
          T(316, 96, "3.9 V", { size: 17 }),
          T(372, 91, "4.0 V", { size: 17 }),
          poly([[126, 133], [126, 140], [82, 140]], "#404040"),
          head([[76, 140], [84, 136.5], [84, 143.5]], "#404040"),
          poly([[357, 63], [357, 73], [382, 73]], "#404040"),
          head([[388, 73], [380, 69.5], [380, 76.5]], "#404040"),
          dot(156, 147, 5, C_BLACK), dot(169, 147, 4.5, "#222222", true), T(185, 147, "BE", { align: "left" }),
          dot(156, 167, 5, C_RED), dot(169, 167, 4.5, C_RED_OPEN, true), T(185, 167, "BE+1% DTD", { align: "left" }),
          dot(156, 187, 5, C_PURPLE), dot(169, 187, 4.5, C_PURPLE_OPEN, true), T(185, 187, "BE+1% NaDFP", { align: "left" }),
          dot(156, 207, 5, C_CYAN), dot(169, 207, 4.5, C_CYAN, true), T(185, 207, "0.1 M NFS", { align: "left" }),
          // (b)
          T(633, 27, "1 C charge, various", { bold: true }),
          T(633, 47, "rate discharge", { bold: true }),
          T(468, 126, "Capacity retention/ %", { rotation: Math.PI / 2 }),
          T(644, 258, "Cycle Number"),
          T(534, 60, "1 C", { size: 17 }),
          T(578, 73, "2 C", { size: 17 }),
          T(618, 85, "3 C", { size: 17 }),
          T(660, 104, "5 C", { size: 17 }),
          T(697, 149, "8 C", { size: 17 }),
          T(729, 80, "1 C", { size: 17 }),
          dot(533, 142, 5, C_BLACK), T(549, 142, "BE", { align: "left" }),
          dot(533, 162, 5, C_RED), T(549, 162, "BE+1% DTD", { align: "left", fill: C_RED }),
          dot(533, 182, 5, C_CYAN), T(549, 182, "0.1 M NFS", { align: "left" }),
          // (c)
          T(953, 36, "-20 ℃, 0.5 C discharge", { bold: true }),
          T(786, 120, "Voltage/ V", { rotation: Math.PI / 2 }),
          T(958, 263, "Capacity/ Ah"),
          seg(947, 74, 969, 74, C_BLACK, 2.5), T(970, 74, "BE", { align: "left" }),
          seg(947, 92, 969, 92, C_RED, 2.5), T(970, 92, "1%DTD", { align: "left" }),
          seg(947, 110.5, 969, 110.5, C_CYAN, 2.5), T(970, 110.5, "0.1 M NFS", { align: "left" }),
          seg(978, 197, 1042, 222, "#bdbdbd", 1), seg(978, 212, 1042, 222, "#bdbdbd", 1),
          { type: "rect", z: 100, shape: { x: 907, y: 188, width: 71, height: 25 }, style: { fill: "#fff", stroke: "#c8c8c8", lineWidth: 1 } },
          T(942.5, 200.5, "10.2 Ah"),
          seg(1047, 175, 1062, 222, "#bdbdbd", 1), seg(1060, 175, 1062, 222, "#bdbdbd", 1),
          { type: "rect", z: 100, shape: { x: 1009, y: 155, width: 63, height: 21 }, style: { fill: "#fff", stroke: "#c8c8c8", lineWidth: 1 } },
          T(1040.5, 165.5, "11.1 Ah"),
          // (d)
          T(260, 332, "RT, 2 C charge, 2 C discharge", { bold: true, align: "left" }),
          T(21, 423, "Discharge capacity/ Ah", { rotation: Math.PI / 2 }),
          T(730, 423, "Coulombic efficiency/ %", { rotation: Math.PI / 2 }),
          T(376, 557, "Cycle number"),
          T(672, 435, "92%", { align: "right", fill: C_CYAN, size: 17 }),
          T(672, 453, "retention", { align: "right", fill: C_CYAN, size: 17 }),
          poly([[123, 362], [123, 375], [82, 375]], "#404040"),
          head([[76, 375], [84, 371.5], [84, 378.5]], "#404040"),
          poly([[626, 317], [626, 333], [667, 333]], "#404040"),
          head([[673, 333], [665, 329.5], [665, 336.5]], "#404040"),
          dot(267, 432, 5.5, C_BLACK), dot(281, 432, 5, "#222222", true), T(297, 432, "BE", { align: "left" }),
          dot(267, 452, 5.5, C_RED), dot(281, 452, 5, C_RED_OPEN, true), T(297, 452, "BE+1% DTD", { align: "left", fill: C_RED }),
          dot(267, 471, 5.5, C_CYAN), dot(281, 471, 5, C_CYAN, true), T(297, 471, "0.1 M NFS", { align: "left" }),
          // (e)
          T(927, 302, "BE", { bold: true }),
          T(938, 380, "BE+1%DTD", { bold: true }),
          T(927, 456, "0.1M NFS", { bold: true }),
          T(772, 385, "Voltage/ V", { rotation: Math.PI / 2 }),
          T(958, 564, "Capacity/ Ah"),
          ...E_LEGEND_NAMES.flatMap((n, i) => {
            const y = 359 + i * 19.5;
            return [seg(1067, y, 1089, y, E_LEGEND_COLORS[i], 2), T(1092, y, n, { align: "left" })];
          }),
        ],
      },
    };
    chart.setOption(option);
    return () => chart.dispose();
  }, []);
  return <div ref={ref} style={{ position: "absolute", left: 0, top: 0, width: 1143, height: 575, background: "#fff" }} />;
}
